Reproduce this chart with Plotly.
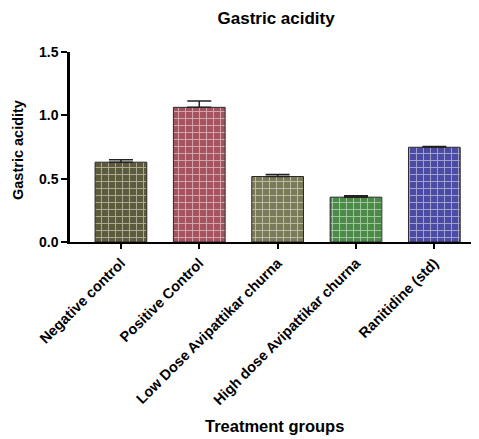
import plotly.graph_objects as go

categories = ["Negative control", "Positive Control", "Low Dose Avipattikar churna",
              "High dose Avipattikar churna", "Ranitidine (std)"]
values = [0.63, 1.063, 0.517, 0.354, 0.748]
errors = [0.02, 0.05, 0.015, 0.012, 0.005]
colors = ["#5e5b3c", "#a5535f", "#7c7b57", "#4b8b47", "#4b4ba3"]
pattern_colors = ["#8e8b6a", "#c98a92", "#aaa98a", "#7fbf7a", "#8585cf"]
y_ticks = [0.0, 0.5, 1.0, 1.5]
y_tick_labels = ["0.0", "0.5", "1.0", "1.5"]

font = "Liberation Sans, Arial, sans-serif"

fig = go.Figure()
fig.add_trace(go.Bar(
    x=list(range(len(categories))),
    y=values,
    width=0.66,
    marker=dict(
        color=colors,
        line=dict(color="#2a2a2a", width=1),
        pattern=dict(shape="+", fgcolor=pattern_colors, size=7, solidity=0.25),
    ),
    error_y=dict(type="data", array=errors, arrayminus=[0] * len(errors),
                 symmetric=False, color="#222", thickness=1.5, width=12),
))

fig.update_layout(
    width=479, height=439,
    margin=dict(l=62, r=8, t=44, b=205),
    plot_bgcolor="white", paper_bgcolor="white",
    showlegend=False,
    font=dict(family=font, color="black"),
    title=dict(text="<b>Gastric acidity</b>", x=0.504, xref="paper", xanchor="center",
               y=1 - 10 / 439, yanchor="middle",
               font=dict(size=17, family=font, color="black")),
    xaxis=dict(
        range=[-0.65, 4.57],
        tickmode="array",
        tickvals=list(range(len(categories))),
        ticktext=["<b>%s</b>" % c for c in categories],
        tickangle=-45,
        ticks="outside", ticklen=5, tickwidth=2, tickcolor="black",
        showline=True, linecolor="black", linewidth=2,
        showgrid=False, zeroline=False, automargin=False,
        tickfont=dict(size=14.5, family=font, color="black"),
    ),
    yaxis=dict(
        range=[0, 1.5],
        tickmode="array",
        tickvals=y_ticks,
        ticktext=["<b>%s</b>" % t for t in y_tick_labels],
        ticks="outside", ticklen=6, tickwidth=2, tickcolor="black",
        showline=True, linecolor="black", linewidth=2.5,
        showgrid=False, zeroline=False, automargin=False,
        tickfont=dict(size=14, family=font, color="black"),
    ),
    annotations=[
        dict(text="<b>Treatment groups</b>", xref="paper", yref="paper",
             x=0.5, y=-(418 - 234) / 190, xanchor="center", yanchor="middle",
             showarrow=False, font=dict(size=16.5, family=font, color="black")),
        dict(text="<b>Gastric acidity</b>", xref="paper", yref="paper",
             x=(10 - 62) / 409, y=(234 - 142) / 190, xanchor="center", yanchor="middle",
             textangle=-90, showarrow=False, font=dict(size=14.5, family=font, color="black")),
    ],
)

fig.write_html("out.html")
